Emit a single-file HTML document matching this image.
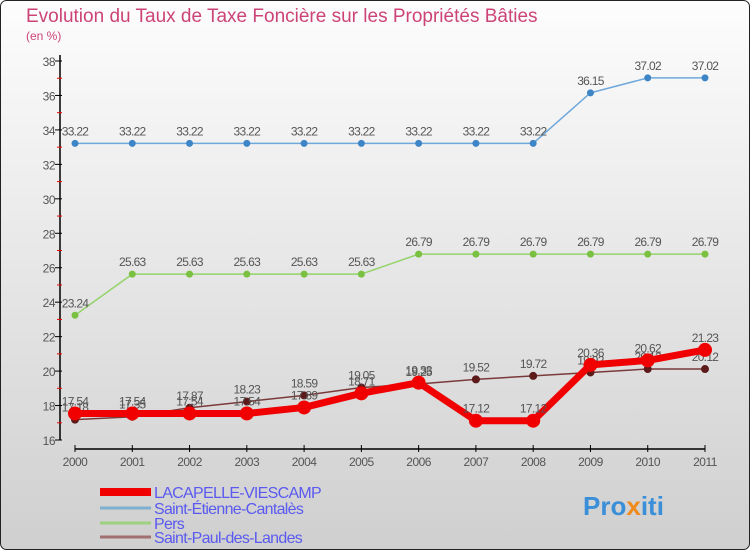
<!DOCTYPE html>
<html><head><meta charset="utf-8"><style>
body{margin:0;width:750px;height:550px;overflow:hidden;font-family:"Liberation Sans",sans-serif}
</style></head><body>
<svg width="750" height="550" xmlns="http://www.w3.org/2000/svg">
<defs><linearGradient id="bg" x1="0" y1="0" x2="0" y2="1"><stop offset="0" stop-color="#fdfdfd"/><stop offset="1" stop-color="#cfcfcf"/></linearGradient></defs>
<rect x="0.5" y="0.5" width="749" height="549" rx="6" fill="url(#bg)" stroke="#222"/>
<text x="26" y="22" font-size="19" fill="#cc4477">Evolution du Taux de Taxe Foncière sur les Propriétés Bâties</text>
<text x="26" y="40" font-size="12" fill="#cc4477">(en %)</text>
<g id="axes"></g><g id="series"></g><g id="legend"></g>
<text x="583" y="515" font-size="26" font-weight="bold" fill="#3a8fd8">Pro<tspan fill="#f08a1c">x</tspan>iti</text>
</svg>
<script>
const years=[2000,2001,2002,2003,2004,2005,2006,2007,2008,2009,2010,2011];
const yTicks=[16,18,20,22,24,26,28,30,32,34,36,38];
const lacapelle=[17.54,17.54,17.54,17.54,17.89,18.71,19.33,17.12,17.12,20.36,20.62,21.23];
const stEtienne=[33.22,33.22,33.22,33.22,33.22,33.22,33.22,33.22,33.22,36.15,37.02,37.02];
const pers=[23.24,25.63,25.63,25.63,25.63,25.63,26.79,26.79,26.79,26.79,26.79,26.79];
const stPaul=[17.18,17.35,17.87,18.23,18.59,19.05,19.25,19.52,19.72,19.92,20.12,20.12];
const names=["LACAPELLE-VIESCAMP","Saint-Étienne-Cantalès","Pers","Saint-Paul-des-Landes"];
const NS="http://www.w3.org/2000/svg";
const xs=i=>75+i*(630/11);
const ys=v=>440-(v-16)*(379/22);
function mk(p,t,a){const e=document.createElementNS(NS,t);for(const k in a)e.setAttribute(k,a[k]);p.appendChild(e);return e;}
const ax=document.getElementById('axes');
let e=mk(ax,'line',{x1:60,y1:55,x2:60,y2:440,stroke:'#000','stroke-width':1.5});

e=mk(ax,'line',{x1:75,y1:449,x2:705,y2:449,stroke:'#000','stroke-width':1.5});

yTicks.forEach(v=>{mk(ax,'line',{x1:55,y1:ys(v),x2:62,y2:ys(v),stroke:'#000'});
 if(v<38)mk(ax,'line',{x1:57,y1:ys(v+1),x2:62,y2:ys(v+1),stroke:'#e00'});
 const t=mk(ax,'text',{x:55,y:ys(v)+5,'font-size':12,fill:'#555','text-anchor':'end','letter-spacing':'-0.5'});t.textContent=v;
 });
years.forEach((y,i)=>{mk(ax,'line',{x1:xs(i),y1:445,x2:xs(i),y2:452,stroke:'#000'});
 const t=mk(ax,'text',{x:xs(i),y:466,'font-size':12,fill:'#555','text-anchor':'middle','letter-spacing':'-0.5'});t.textContent=y;
 });
const sg=document.getElementById('series');
const series=[[stEtienne,'#6fa8dc','#3d85c6',1.5,3.5,'st-etienne'],[pers,'#93d36a','#7ac142',1.5,3.5,'pers'],[stPaul,'#7a3a3a','#5c1a1a',1.5,4,'st-paul'],[lacapelle,'#f00000','#f00000',7,7,'lacapelle']];
series.forEach(([d,lc,pc,w,r,n])=>{
 const l=mk(sg,'polyline',{points:d.map((v,i)=>xs(i)+','+ys(v)).join(' '),fill:'none',stroke:lc,'stroke-width':w,'stroke-linejoin':'round'});
 
 d.forEach((v,i)=>{const c=mk(sg,'circle',{cx:xs(i),cy:ys(v),r:r,fill:pc});
  
  const t=mk(sg,'text',{x:xs(i),y:ys(v)-8,'font-size':12,fill:'#555','text-anchor':'middle','letter-spacing':'-0.7'});t.textContent=v;
  });
});
const lg=document.getElementById('legend');
const lcol=['#f00000','#7fb0d0','#9fd080','#a07070'],lw=[8,3,3,3],ly=[492,508,523,537];
names.forEach((nm,i)=>{const l=mk(lg,'line',{x1:100,y1:ly[i],x2:151,y2:ly[i],stroke:lcol[i],'stroke-width':lw[i]});
 
 const t=mk(lg,'text',{x:154,y:ly[i]+6,'font-size':16,fill:'#5a5af0','letter-spacing':'-0.7'});t.textContent=nm;
 });
</script>
</body></html>
